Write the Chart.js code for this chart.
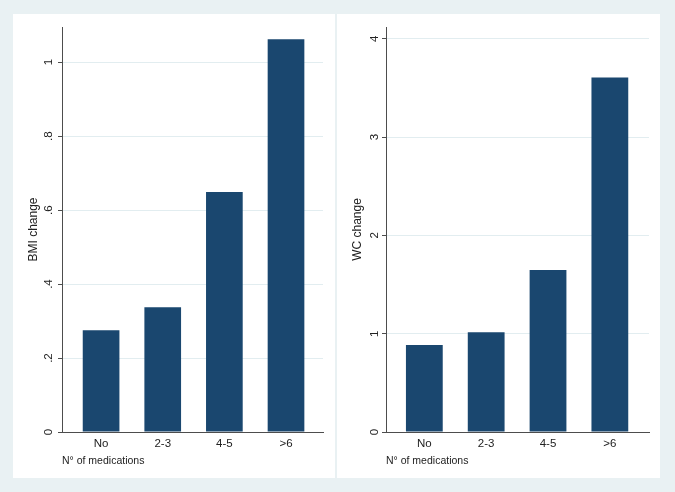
<!DOCTYPE html>
<html>
<head>
<meta charset="utf-8">
<script src="https://cdn.jsdelivr.net/npm/chart.js@4/dist/chart.umd.min.js"></script>
<style>
  body { margin: 0; width: 675px; height: 492px; background: #e9f1f3; position: relative; overflow: hidden; }
  canvas { position: absolute; background: #ffffff; }
  #bmiChart { left: 13px; top: 14px; }
  #wcChart { left: 337px; top: 14px; }
</style>
</head>
<body>
<canvas id="bmiChart" width="322" height="464"></canvas>
<canvas id="wcChart" width="323" height="464"></canvas>
<script>
// data
const categories = ["No", "2-3", "4-5", ">6"];
const bmiChange = [0.275, 0.337, 0.649, 1.062];
const wcChange = [0.885, 1.015, 1.649, 3.606];
const xTitle = "N\u00b0 of medications";

const navy = "#1a476f";
const axisColor = "#4d4d4d";
const gridColor = "#e2edf0";
const fontFamily = "'Liberation Sans', Arial, sans-serif";

// stata style labels: .2 .4 ... instead of 0.2
function stataLabel(v) {
  if (v === 0) return "0";
  return Number(v.toFixed(1)).toString().replace(/^0\./, ".");
}

function makeChart(id, values, yTitle, yMax, yStep, xMin, xMax, padRight) {
  const ctx = document.getElementById(id).getContext("2d");
  return new Chart(ctx, {
    type: "bar",
    data: {
      datasets: [{
        data: values.map((v, i) => ({ x: i + 1, y: v })),
        backgroundColor: navy,
        borderColor: navy,
        borderWidth: 0,
        barPercentage: 0.595,
        categoryPercentage: 1
      }]
    },
    options: {
      responsive: false,
      animation: false,
      layout: { padding: { top: 13, right: padRight, left: 0, bottom: 0 } },
      plugins: { legend: { display: false }, tooltip: { enabled: false } },
      scales: {
        x: {
          type: "linear",
          offset: false,
          bounds: "data",
          min: xMin,
          max: xMax,
          afterBuildTicks: (scale) => {
            scale.ticks = categories.map((c, i) => ({ value: i + 1 }));
          },
          afterFit: (scale) => { scale.height = 46; },
          grid: { display: false, drawTicks: false },
          border: { display: true, color: axisColor, width: 1 },
          ticks: {
            padding: 5,
            color: "#222",
            font: { family: fontFamily, size: 11.5 },
            callback: (v) => categories[v - 1]
          },
          title: {
            display: true,
            text: xTitle,
            align: "start",
            color: "#222",
            font: { family: fontFamily, size: 10.5 },
            padding: { top: 0, bottom: 11 }
          }
        },
        y: {
          min: 0,
          max: yMax,
          afterFit: (scale) => { scale.width = 49; },
          grid: { color: gridColor, tickColor: axisColor, tickLength: 4, lineWidth: 1 },
          border: { display: true, color: axisColor, width: 1 },
          ticks: {
            stepSize: yStep,
            includeBounds: false,
            minRotation: 90,
            maxRotation: 90,
            crossAlign: "center",
            padding: 4,
            color: "#222",
            font: { family: fontFamily, size: 11.5 },
            callback: (v) => stataLabel(v)
          },
          title: {
            display: true,
            text: yTitle,
            color: "#222",
            font: { family: fontFamily, size: 12 },
            padding: { top: 13, bottom: 0 }
          }
        }
      }
    }
  });
}

makeChart("bmiChart", bmiChange, "BMI change", 1.095, 0.2, 0.366, 4.60, 12);
makeChart("wcChart", wcChange, "WC change", 4.12, 1, 0.380, 4.633, 11);
</script>
</body>
</html>
